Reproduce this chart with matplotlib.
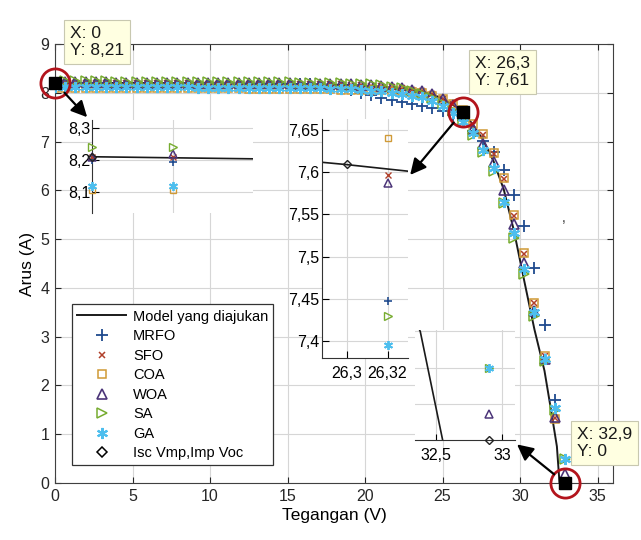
import matplotlib
matplotlib.use('Agg')
import matplotlib.pyplot as plt
from matplotlib.patches import ConnectionPatch
from matplotlib.ticker import FuncFormatter

plt.rcParams['font.family'] = ['Liberation Sans', 'DejaVu Sans']

# voltage grid shared by all algorithm results (V)
volt = [0.0, 0.658, 1.316, 1.974, 2.632, 3.29, 3.948, 4.606, 5.264, 5.922,
        6.58, 7.238, 7.896, 8.554, 9.212, 9.87, 10.528, 11.186, 11.844, 12.502,
        13.16, 13.818, 14.476, 15.134, 15.792, 16.45, 17.108, 17.766, 18.424, 19.082,
        19.74, 20.398, 21.056, 21.714, 22.372, 23.03, 23.688, 24.346, 25.004, 25.662,
        26.32, 26.978, 27.636, 28.294, 28.952, 29.61, 30.268, 30.926, 31.584, 32.242,
        32.9]

mrfo = [8.20, 8.195, 8.20, 8.20, 8.20, 8.20, 8.19, 8.19, 8.19, 8.19,
        8.19, 8.19, 8.19, 8.19, 8.18, 8.18, 8.18, 8.18, 8.18, 8.18,
        8.18, 8.18, 8.18, 8.17, 8.17, 8.17, 8.16, 8.13, 8.10, 8.05,
        8.00, 7.95, 7.90, 7.85, 7.81, 7.76, 7.72, 7.69, 7.63, 7.55,
        7.448, 7.22, 7.02, 6.78, 6.42, 5.91, 5.26, 4.40, 3.24, 1.70,
        -0.10]
sfo = [8.21, 8.21, 8.21, 8.21, 8.21, 8.21, 8.20, 8.20, 8.20, 8.20,
       8.20, 8.20, 8.20, 8.20, 8.19, 8.19, 8.19, 8.19, 8.19, 8.19,
       8.19, 8.19, 8.19, 8.19, 8.18, 8.18, 8.18, 8.17, 8.17, 8.16,
       8.15, 8.14, 8.13, 8.11, 8.09, 8.06, 8.03, 7.97, 7.88, 7.76,
       7.597, 7.34, 7.13, 6.74, 6.24, 5.48, 4.70, 3.68, 2.60, 1.34,
       -0.10]
coa = [8.105, 8.105, 8.10, 8.10, 8.10, 8.10, 8.10, 8.10, 8.10, 8.09,
       8.09, 8.09, 8.09, 8.09, 8.09, 8.09, 8.09, 8.09, 8.09, 8.08,
       8.08, 8.08, 8.08, 8.08, 8.08, 8.07, 8.07, 8.07, 8.06, 8.06,
       8.06, 8.06, 8.05, 8.04, 8.03, 8.01, 7.99, 7.94, 7.87, 7.77,
       7.64, 7.37, 7.16, 6.76, 6.25, 5.50, 4.72, 3.70, 2.61, 1.32,
       -0.10]
woa = [8.21, 8.22, 8.22, 8.22, 8.22, 8.22, 8.21, 8.21, 8.21, 8.21,
       8.21, 8.21, 8.21, 8.21, 8.20, 8.20, 8.20, 8.20, 8.20, 8.20,
       8.20, 8.20, 8.20, 8.20, 8.19, 8.19, 8.19, 8.18, 8.18, 8.17,
       8.16, 8.15, 8.14, 8.12, 8.10, 8.06, 8.03, 7.97, 7.88, 7.75,
       7.587, 7.26, 6.96, 6.58, 6.00, 5.30, 4.52, 3.53, 2.55, 1.35,
       0.18]
sa = [8.24, 8.24, 8.24, 8.24, 8.24, 8.24, 8.23, 8.23, 8.23, 8.23,
      8.23, 8.23, 8.23, 8.23, 8.22, 8.22, 8.22, 8.22, 8.22, 8.22,
      8.22, 8.22, 8.22, 8.22, 8.21, 8.21, 8.21, 8.20, 8.20, 8.19,
      8.18, 8.17, 8.15, 8.12, 8.09, 8.04, 7.98, 7.89, 7.77, 7.62,
      7.43, 7.13, 6.79, 6.40, 5.74, 5.03, 4.28, 3.43, 2.50, 1.50,
      0.50]
ga = [8.12, 8.12, 8.12, 8.12, 8.12, 8.12, 8.11, 8.11, 8.11, 8.11,
      8.11, 8.11, 8.11, 8.11, 8.10, 8.10, 8.10, 8.10, 8.10, 8.10,
      8.10, 8.10, 8.10, 8.10, 8.09, 8.09, 8.09, 8.08, 8.08, 8.07,
      8.06, 8.04, 8.03, 8.00, 7.98, 7.94, 7.91, 7.84, 7.73, 7.58,
      7.395, 7.18, 6.82, 6.45, 5.76, 5.13, 4.38, 3.50, 2.55, 1.53,
      0.50]

# proposed model curve
model_v = [0, 1.4, 5, 10, 15, 18, 19.74, 21.06, 22.37, 23.03, 23.69, 24.35, 25.0,
           25.66, 26.3, 26.35, 27.0, 27.64, 28.29, 28.95, 29.61, 30.27, 30.93,
           31.58, 32.0, 32.38, 32.55]
model_i = [8.21, 8.203, 8.20, 8.195, 8.185, 8.165, 8.15, 8.128, 8.092, 8.064, 8.025,
           7.968, 7.88, 7.755, 7.609, 7.596, 7.33, 7.02, 6.60, 6.02, 5.17, 4.15,
           3.15, 2.30, 1.50, 0.75, 0.0]

# Isc / (Vmp, Imp) / Voc
key_v = [0, 26.3, 32.9]
key_i = [8.21, 7.61, 0]

names = ['MRFO', 'SFO', 'COA', 'WOA', 'SA', 'GA']
values = [mrfo, sfo, coa, woa, sa, ga]
styles = {
    'MRFO': dict(marker='+', color='#1f4a8e', ms=8, mew=1.3),
    'SFO': dict(marker='x', color='#b0402a', ms=5, mew=1.1),
    'COA': dict(marker='s', color='#d09a36', ms=6, mew=1.1, mfc='none'),
    'WOA': dict(marker='^', color='#4b3478', ms=7, mew=1.2, mfc='none'),
    'SA': dict(marker='>', color='#77ac30', ms=6.5, mew=1.1, mfc='none'),
    'GA': dict(marker=(6, 2, 0), color='#4dbeee', ms=8, mew=1.5),
}
W, H = 641, 540
comma = FuncFormatter(lambda x, p: f'{x:g}'.replace('.', ','))
grid_c = '#d6d6d6'


def px_axes(left, top, right, bottom):
    return fig.add_axes([left / W, 1 - bottom / H, (right - left) / W, (bottom - top) / H])


def draw_all(a, sl=slice(None), clip=True, ms_scale=0.8):
    a.plot(model_v, model_i, color='#1a1a1a', lw=1.2, zorder=2)
    for n, vals in zip(names, values):
        st = dict(styles[n])
        st['ms'] = st['ms'] * ms_scale
        st['mew'] = st['mew'] * 0.9
        a.plot(volt[sl], vals[sl], ls='none', clip_on=clip, zorder=3, **st)
    a.plot(key_v, key_i, ls='none', marker='D', ms=4.5, mfc='none', mec='#222222',
           mew=1.0, clip_on=False, zorder=4)


fig = plt.figure(figsize=(W / 100, H / 100), dpi=100)
ax = px_axes(55, 44, 613, 483)

lines = [ax.plot(model_v, model_i, color='#1a1a1a', lw=1.4, zorder=2,
                 label='Model yang diajukan')[0]]
for n, vals in zip(names, values):
    lines.append(ax.plot(volt, vals, ls='none', zorder=3, label=n, **styles[n])[0])
lines.append(ax.plot(key_v, key_i, ls='none', marker='D', ms=5.5, mfc='none', mec='k',
                     mew=1.1, zorder=4, label='Isc Vmp,Imp Voc')[0])

ax.set_xlim(0, 36)
ax.set_ylim(0, 9)
ax.set_xticks(range(0, 36, 5))
ax.set_yticks(range(0, 10))
ax.grid(True, color=grid_c, lw=0.8)
ax.tick_params(direction='in', top=True, right=True, length=4, labelsize=11.5,
               colors='#262626', pad=4)
for s in ax.spines.values():
    s.set_color('#404040')
    s.set_linewidth(0.8)
ax.set_xlabel('Tegangan (V)', fontsize=12.5, labelpad=3)
ax.set_ylabel('Arus (A)', fontsize=12.5, labelpad=4)

# data tip markers
ax.plot(key_v, key_i, ls='none', marker='s', ms=9, color='k', clip_on=False, zorder=8)
ax.plot(key_v, key_i, ls='none', marker='o', ms=21, mfc='none', mec='#b3141c',
        mew=2.0, clip_on=False, zorder=9)

leg = ax.legend(handles=lines, loc='lower left', bbox_to_anchor=(0.03, 0.04),
                borderaxespad=0, fontsize=10.5, fancybox=False, framealpha=1,
                edgecolor='#333333', handlelength=3.4, handletextpad=0.45,
                labelspacing=0.38, borderpad=0.35, numpoints=1)
leg.get_frame().set_linewidth(0.9)
leg.set_zorder(6)

# inset 1 : short circuit region
in1 = px_axes(92, 120, 253, 213)
draw_all(in1, slice(0, 2), clip=False)
in1.set_xlim(0, 1.30)
in1.set_ylim(8.034, 8.325)
in1.set_xticks([0.658])
in1.set_xticklabels([])
in1.set_yticks([8.1, 8.2, 8.3])
in1.yaxis.set_major_formatter(comma)
in1.tick_params(axis='x', length=0)
in1.tick_params(axis='y', direction='in', length=5, labelsize=11.5, pad=1)
in1.grid(True, color=grid_c, lw=0.8)
for k in ['top', 'right', 'bottom']:
    in1.spines[k].set_visible(False)
in1.spines['left'].set_color('#333333')

# inset 2 : maximum power point
in2 = px_axes(322, 119, 408, 358)
draw_all(in2)
in2.set_xlim(26.288, 26.330)
in2.set_ylim(7.380, 7.663)
in2.set_xticks([26.3, 26.32])
in2.set_yticks([7.4, 7.45, 7.5, 7.55, 7.6, 7.65])
in2.xaxis.set_major_formatter(comma)
in2.yaxis.set_major_formatter(comma)
in2.tick_params(direction='in', length=5, labelsize=11.5, pad=2)
in2.tick_params(axis='x', pad=6)
in2.grid(True, color=grid_c, lw=0.8)
for k in ['top', 'right']:
    in2.spines[k].set_visible(False)
for k in ['left', 'bottom']:
    in2.spines[k].set_color('#333333')

# inset 3 : open circuit region
in3 = px_axes(415, 330, 515, 440)
draw_all(in3)
in3.set_xlim(32.34, 33.10)
in3.set_ylim(0, 0.76)
in3.set_xticks([32.5, 33])
in3.set_yticks([0.25, 0.5, 0.75])
in3.set_yticklabels([])
in3.xaxis.set_major_formatter(comma)
in3.tick_params(axis='y', length=0)
in3.tick_params(axis='x', direction='in', length=4, labelsize=11.5, pad=6)
in3.grid(True, color=grid_c, lw=0.8)
for k in ['top', 'right', 'left']:
    in3.spines[k].set_visible(False)
in3.spines['bottom'].set_color('#333333')

# arrows from the data tips to the zoomed views
targets = [(in1, (-0.03, 1.03)), (in2, (1.025, 0.766)), (in3, (1.02, -0.04))]
for v, i, (ins, xy) in zip(key_v, key_i, targets):
    con = ConnectionPatch(xyA=(v, i), coordsA=ax.transData, xyB=xy,
                          coordsB=ins.transAxes, arrowstyle='-|>', mutation_scale=24,
                          lw=1.6, color='k', shrinkA=10, shrinkB=0, zorder=12)
    fig.add_artist(con)

# data tip boxes
tip_pos = [(70, 26), (475, 56), (577, 427)]
for v, i, (px, py) in zip(key_v, key_i, tip_pos):
    label = f'X: {v:g}\nY: {i:g}'.replace('.', ',')
    fig.text(px / W, 1 - py / H, label, ha='left', va='top', fontsize=12.5,
             linespacing=1.15, color='#1a1a1a', zorder=15,
             bbox=dict(boxstyle='square,pad=0.35', fc='#ffffe1', ec='#c8c8b0', lw=0.8))

fig.text(562 / W, 1 - 222 / H, ',', fontsize=10, color='#333333')

fig.savefig('out.png', dpi=100)
